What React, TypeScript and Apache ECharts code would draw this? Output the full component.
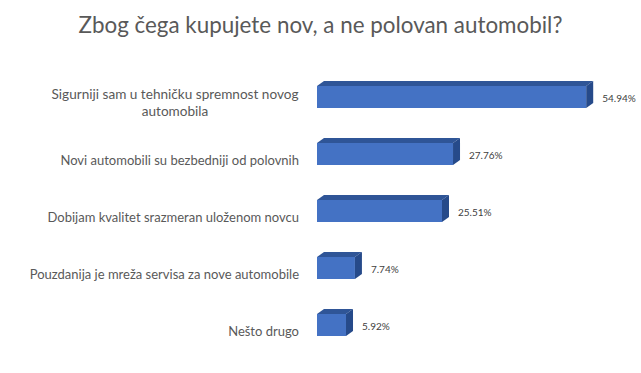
import React, { useEffect, useRef } from "react";
import * as echarts from "echarts";

const title = "Zbog čega kupujete nov, a ne polovan automobil?";
const categories = [
  "Sigurniji sam u tehničku spremnost novog\nautomobila",
  "Novi automobili su bezbedniji od polovnih",
  "Dobijam kvalitet srazmeran uloženom novcu",
  "Pouzdanija je mreža servisa za nove automobile",
  "Nešto drugo",
];
const values = [54.94, 27.76, 25.51, 7.74, 5.92];

const FONT = "Lato, 'Open Sans', sans-serif";

export default function App() {
  const ref = useRef<HTMLDivElement>(null);
  useEffect(() => {
    if (!ref.current) return;
    const chart = echarts.init(ref.current, null, { renderer: "svg" });
    const depthX = 7;
    const depthY = 5;
    const barH = 22;
    chart.setOption({
      animation: false,
      backgroundColor: "#ffffff",
      title: {
        text: title,
        left: "center",
        top: 8,
        textStyle: { fontFamily: FONT, fontSize: 22.4, fontWeight: "normal", color: "#595959" },
      },
      grid: { left: 317, right: 30, top: 68.5, bottom: 19.5, containLabel: false },
      xAxis: {
        type: "value",
        min: 0,
        max: 60,
        show: false,
      },
      yAxis: {
        type: "category",
        inverse: true,
        data: categories,
        axisLine: { show: false },
        axisTick: { show: false },
        splitLine: { show: false },
        axisLabel: {
          margin: 18,
          fontFamily: FONT,
          fontSize: 13,
          color: "#595959",
          lineHeight: 17,
          padding: [11, 0, 0, 0],
          formatter: (v: string) => (v.indexOf("\n") >= 0 ? `{c|${v}}` : v),
          rich: {
            c: { width: 248, align: "center", fontFamily: FONT, fontSize: 13.6, color: "#595959", lineHeight: 17 },
          },
        },
      },
      series: [
        {
          type: "custom",
          data: values.map((v, i) => [v, i]),
          encode: { x: 0, y: 1 },
          renderItem: (params: any, api: any) => {
            const idx = api.value(1);
            const val = api.value(0);
            const s = api.coord([0, idx]);
            const e = api.coord([val, idx]);
            const x0 = s[0];
            const x1 = e[0];
            const yt = s[1] - barH / 2;
            const yb = s[1] + barH / 2;
            return {
              type: "group",
              children: [
                {
                  type: "rect",
                  shape: { x: x0, y: yt, width: x1 - x0, height: barH },
                  style: { fill: "#4472C4" },
                },
                {
                  type: "polygon",
                  shape: {
                    points: [
                      [x0, yt],
                      [x1, yt],
                      [x1 + depthX, yt - depthY],
                      [x0 + depthX, yt - depthY],
                    ],
                  },
                  style: { fill: "#2F5597" },
                },
                {
                  type: "polygon",
                  shape: {
                    points: [
                      [x1, yt],
                      [x1 + depthX, yt - depthY],
                      [x1 + depthX, yb - depthY],
                      [x1, yb],
                    ],
                  },
                  style: { fill: "#264A8A" },
                },
                {
                  type: "text",
                  style: {
                    x: x1 + 16,
                    y: s[1] + 1,
                    text: val.toFixed(2) + "%",
                    fontFamily: FONT,
                    fontSize: 10,
                    fill: "#404040",
                    textAlign: "left",
                    textVerticalAlign: "middle",
                  },
                },
              ],
            };
          },
        },
      ],
    });
    return () => chart.dispose();
  }, []);
  return (
    <div
      ref={ref}
      style={{ position: "fixed", left: 0, top: 0, width: 641, height: 373, background: "#fff" }}
    />
  );
}
